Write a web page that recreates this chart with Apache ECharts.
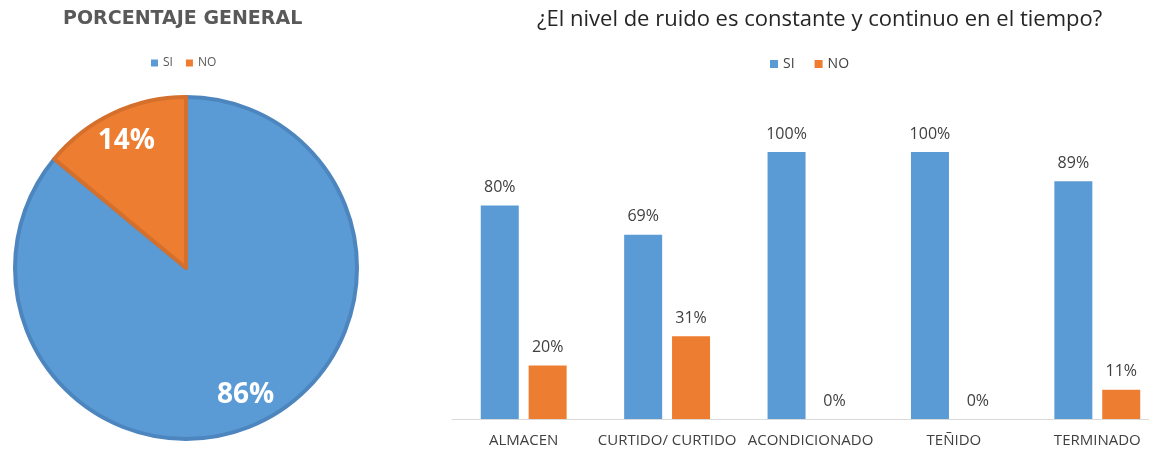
<!DOCTYPE html>
<html>
<head>
<meta charset="utf-8">
<script src="https://cdn.jsdelivr.net/npm/echarts@6/dist/echarts.min.js"></script>
<style>
  html, body { margin: 0; padding: 0; background: #fff; }
  #chart { width: 1149px; height: 449px; }
</style>
</head>
<body>
<div id="chart"></div>
<script>
// datos
var leyenda = ['SI', 'NO'];
var generalValores = [86, 14];
var areas = ['ALMACEN', 'CURTIDO/ CURTIDO', 'ACONDICIONADO', 'TEÑIDO', 'TERMINADO'];
var siValores = [80, 69, 100, 100, 89];
var noValores = [20, 31, 0, 0, 11];

var azul = '#5b9bd5';
var naranja = '#ed7d31';
var fuente = '"Open Sans", sans-serif';

var chart = echarts.init(document.getElementById('chart'));

var pieData = generalValores.map(function (v, i) {
  return {
    name: leyenda[i],
    value: v,
    itemStyle: {
      color: i === 0 ? azul : naranja,
      borderColor: i === 0 ? '#4d86bf' : '#d5702c',
      borderWidth: 4
    }
  };
});

chart.setOption({
  animation: false,
  title: [
    {
      text: 'PORCENTAJE GENERAL',
      left: 58,
      top: 5,
      textStyle: { fontFamily: '"DejaVu Sans", sans-serif', fontSize: 19, fontWeight: 'bold', color: '#595959' }
    },
    {
      text: '¿El nivel de ruido es constante y continuo en el tiempo?',
      left: 532,
      top: 4,
      textStyle: { fontFamily: fuente, fontSize: 22, fontWeight: 'normal', color: '#262626' }
    }
  ],
  legend: [
    {
      left: 151,
      top: 57,
      padding: 0,
      itemWidth: 7,
      itemHeight: 7,
      itemGap: 13,
      icon: 'rect',
      data: [
        { name: 'SI', itemStyle: { color: azul } },
        { name: 'NO', itemStyle: { color: naranja } }
      ],
      textStyle: { fontFamily: fuente, fontSize: 12, color: '#595959' }
    },
    {
      left: 770,
      top: 57,
      padding: 0,
      itemWidth: 8,
      itemHeight: 8,
      itemGap: 20,
      icon: 'rect',
      data: [
        { name: 'SI', itemStyle: { color: azul } },
        { name: 'NO', itemStyle: { color: naranja } }
      ],
      textStyle: { fontFamily: fuente, fontSize: 14, color: '#404040' }
    }
  ],
  // el eje continua fuera del borde derecho (recortado en la imagen)
  grid: { left: 452, top: 152, width: 717, height: 267, outerBoundsMode: 'none', containLabel: false },
  xAxis: {
    type: 'category',
    data: areas,
    axisLine: { lineStyle: { color: '#d9d9d9', width: 1 } },
    axisTick: { show: false },
    axisLabel: { interval: 0, margin: 14, fontFamily: fuente, fontSize: 15, color: '#404040' }
  },
  yAxis: {
    type: 'value',
    min: 0,
    max: 100,
    show: false,
    splitLine: { show: false }
  },
  series: [
    {
      name: 'SI',
      type: 'bar',
      data: siValores,
      barWidth: 38,
      barGap: '26%',
      itemStyle: { color: azul },
      label: {
        show: true, position: 'top', distance: 10, formatter: '{c}%',
        fontFamily: fuente, fontSize: 16, color: '#404040'
      }
    },
    {
      name: 'NO',
      type: 'bar',
      data: noValores,
      barWidth: 38,
      barGap: '26%',
      itemStyle: { color: naranja },
      label: {
        show: true, position: 'top', distance: 10, formatter: '{c}%',
        fontFamily: fuente, fontSize: 16, color: '#404040'
      }
    },
    {
      name: 'General',
      type: 'pie',
      center: [186, 268],
      radius: [0, 171],
      startAngle: 90,
      clockwise: true,
      silent: true,
      label: { show: false },
      labelLine: { show: false },
      data: pieData
    },
    {
      // capa solo para etiquetas (mas hacia el borde)
      name: 'GeneralEtiquetas',
      type: 'pie',
      center: [186, 268],
      radius: [103, 171],
      startAngle: 90,
      clockwise: true,
      silent: true,
      itemStyle: { color: 'rgba(0,0,0,0)', borderWidth: 0 },
      label: {
        show: true, position: 'inside', formatter: '{c}%',
        fontFamily: fuente, fontSize: 28, fontWeight: 'bold', color: '#fff'
      },
      labelLine: { show: false },
      data: generalValores.map(function (v, i) { return { name: leyenda[i], value: v }; })
    }
  ]
});

window.onresize = function () {
  chart.resize();
};
</script>
</body>
</html>
